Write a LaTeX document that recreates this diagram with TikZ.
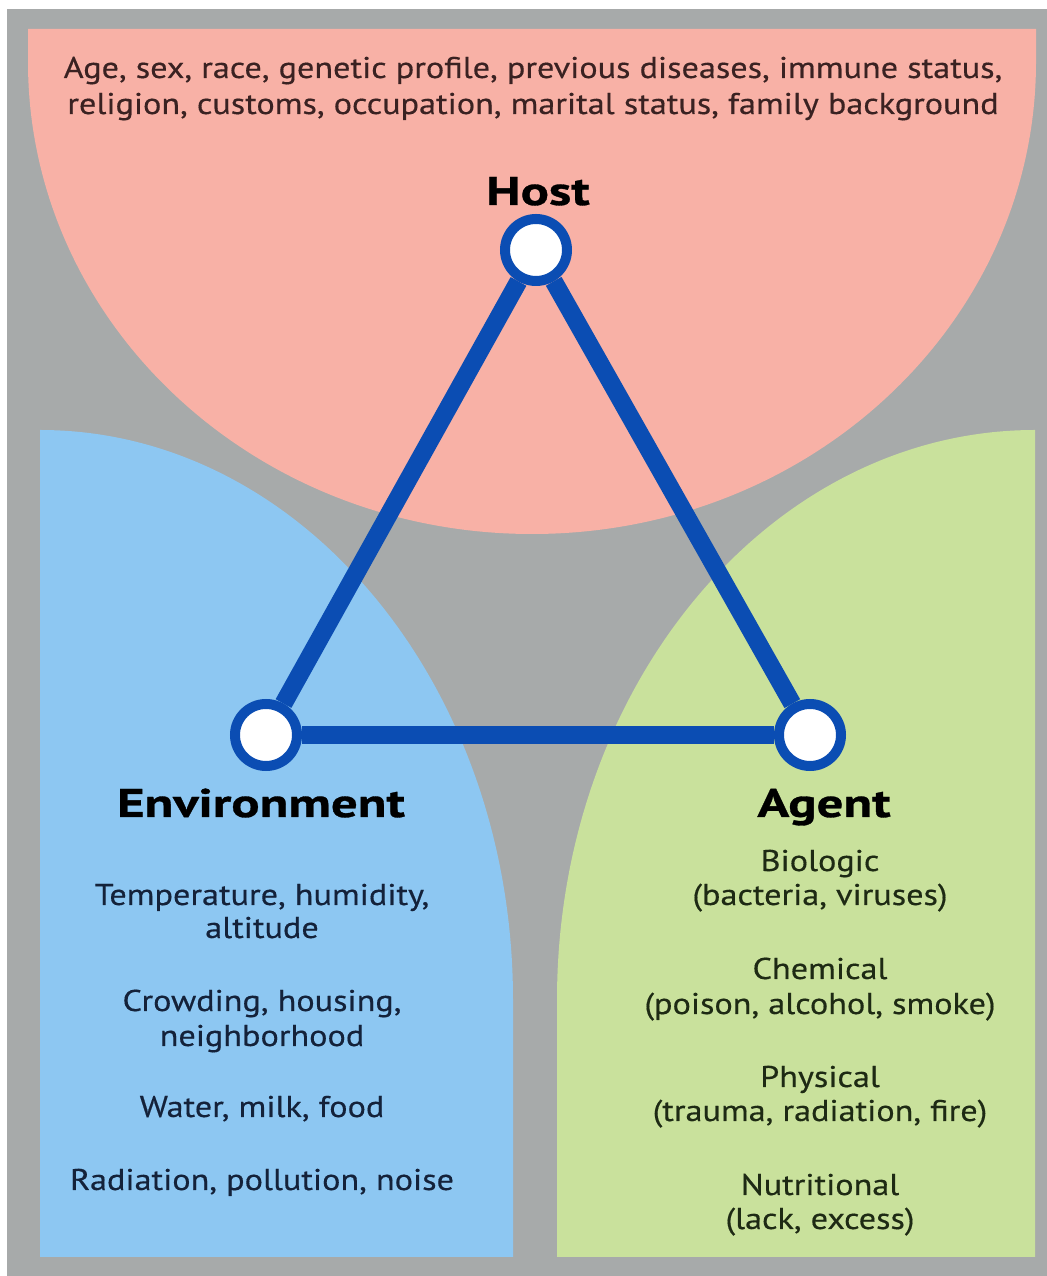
\documentclass[tikz,border=0pt]{standalone}
\usepackage{fontspec}
\setmainfont{PT Sans}
\newfontfamily\bodyfont[FakeStretch=1.14, FakeBold=0.4]{PT Sans}
\newfontfamily\headfont[FakeStretch=1.32, FakeBold=0.8]{PT Sans}
\usetikzlibrary{positioning}
\definecolor{bggray}{HTML}{A7AAAA}
\definecolor{hostpink}{HTML}{F8B1A6}
\definecolor{envblue}{HTML}{8DC7F2}
\definecolor{agentgreen}{HTML}{C9E19C}
\definecolor{triblue}{HTML}{0B4DB3}
\definecolor{hosttext}{HTML}{3A2222}
\definecolor{envtext}{HTML}{14223A}
\definecolor{agenttext}{HTML}{1E2A14}
\tikzset{
  x = 0.5pt,
  y = 0.5pt,
  vertex/.style = {circle, draw=triblue, fill=white, line width=5pt,
    minimum size=31pt, inner sep=0pt},
  side/.style = {draw=triblue, line width=9pt},
  heading/.style = {font=\headfont\bfseries\fontsize{20}{24}\selectfont, anchor=base},
  item/.style = {font=\bodyfont\fontsize{15}{18}\selectfont, anchor=base},
}

\begin{document}
\begin{tikzpicture}
  \useasboundingbox (0,0) rectangle (1047,1276);
  \fill[white] (0,0) rectangle (1047,1276);
  \fill[bggray] (7,0) rectangle (1047,1267);
  % the three regions
  \fill[hostpink] (28,1247) -- (1036,1247) -- (1036,1214)
    arc[start angle=0, end angle=-180, x radius=504, y radius=472] -- cycle;
  \fill[envblue] (40,19) -- (40,846)
    arc[start angle=90, end angle=0, x radius=473, y radius=570] -- (513,19) -- cycle;
  \fill[agentgreen] (1035,19) -- (1035,846)
    arc[start angle=90, end angle=180, x radius=478, y radius=570] -- (557,19) -- cycle;
  % triangle
  \node[vertex] (host) at (536,1026) {};
  \node[vertex] (env) at (266,541) {};
  \node[vertex] (agent) at (810,541) {};
  \draw[side]
      (host) edge (env)
      (env) edge (agent)
      (agent) edge (host);
  \node[heading] (host label) at (538,1071) {Host};
  \node[heading] (env label) at (261,459) {Environment};
  \node[heading] (agent label) at (824,459) {Agent};
  % host factors
  \node[item, text=hosttext] (host line1) at (533,1198)
    {Age, sex, race, genetic profile, previous diseases, immune status,};
  \node[item, text=hosttext] (host line2) at (533,1162)
    {religion, customs, occupation, marital status, family background};
  % environment factors
  \foreach \t/\y [count=\i] in {{Temperature, humidity,}/371, altitude/338,
      {Crowding, housing,}/265, neighborhood/230, {Water, milk, food}/159,
      {Radiation, pollution, noise}/86}
    \node[item, text=envtext] (env item\i) at (262,\y) {\t};
  % agent factors
  \foreach \t/\y [count=\i] in {Biologic/405, {(bacteria, viruses)}/371,
      Chemical/297, {(poison, alcohol, smoke)}/262, Physical/189,
      {(trauma, radiation, fire)}/155, Nutritional/81, {(lack, excess)}/47}
    \node[item, text=agenttext] (agent item\i) at (820,\y) {\t};
\end{tikzpicture}
\end{document}
